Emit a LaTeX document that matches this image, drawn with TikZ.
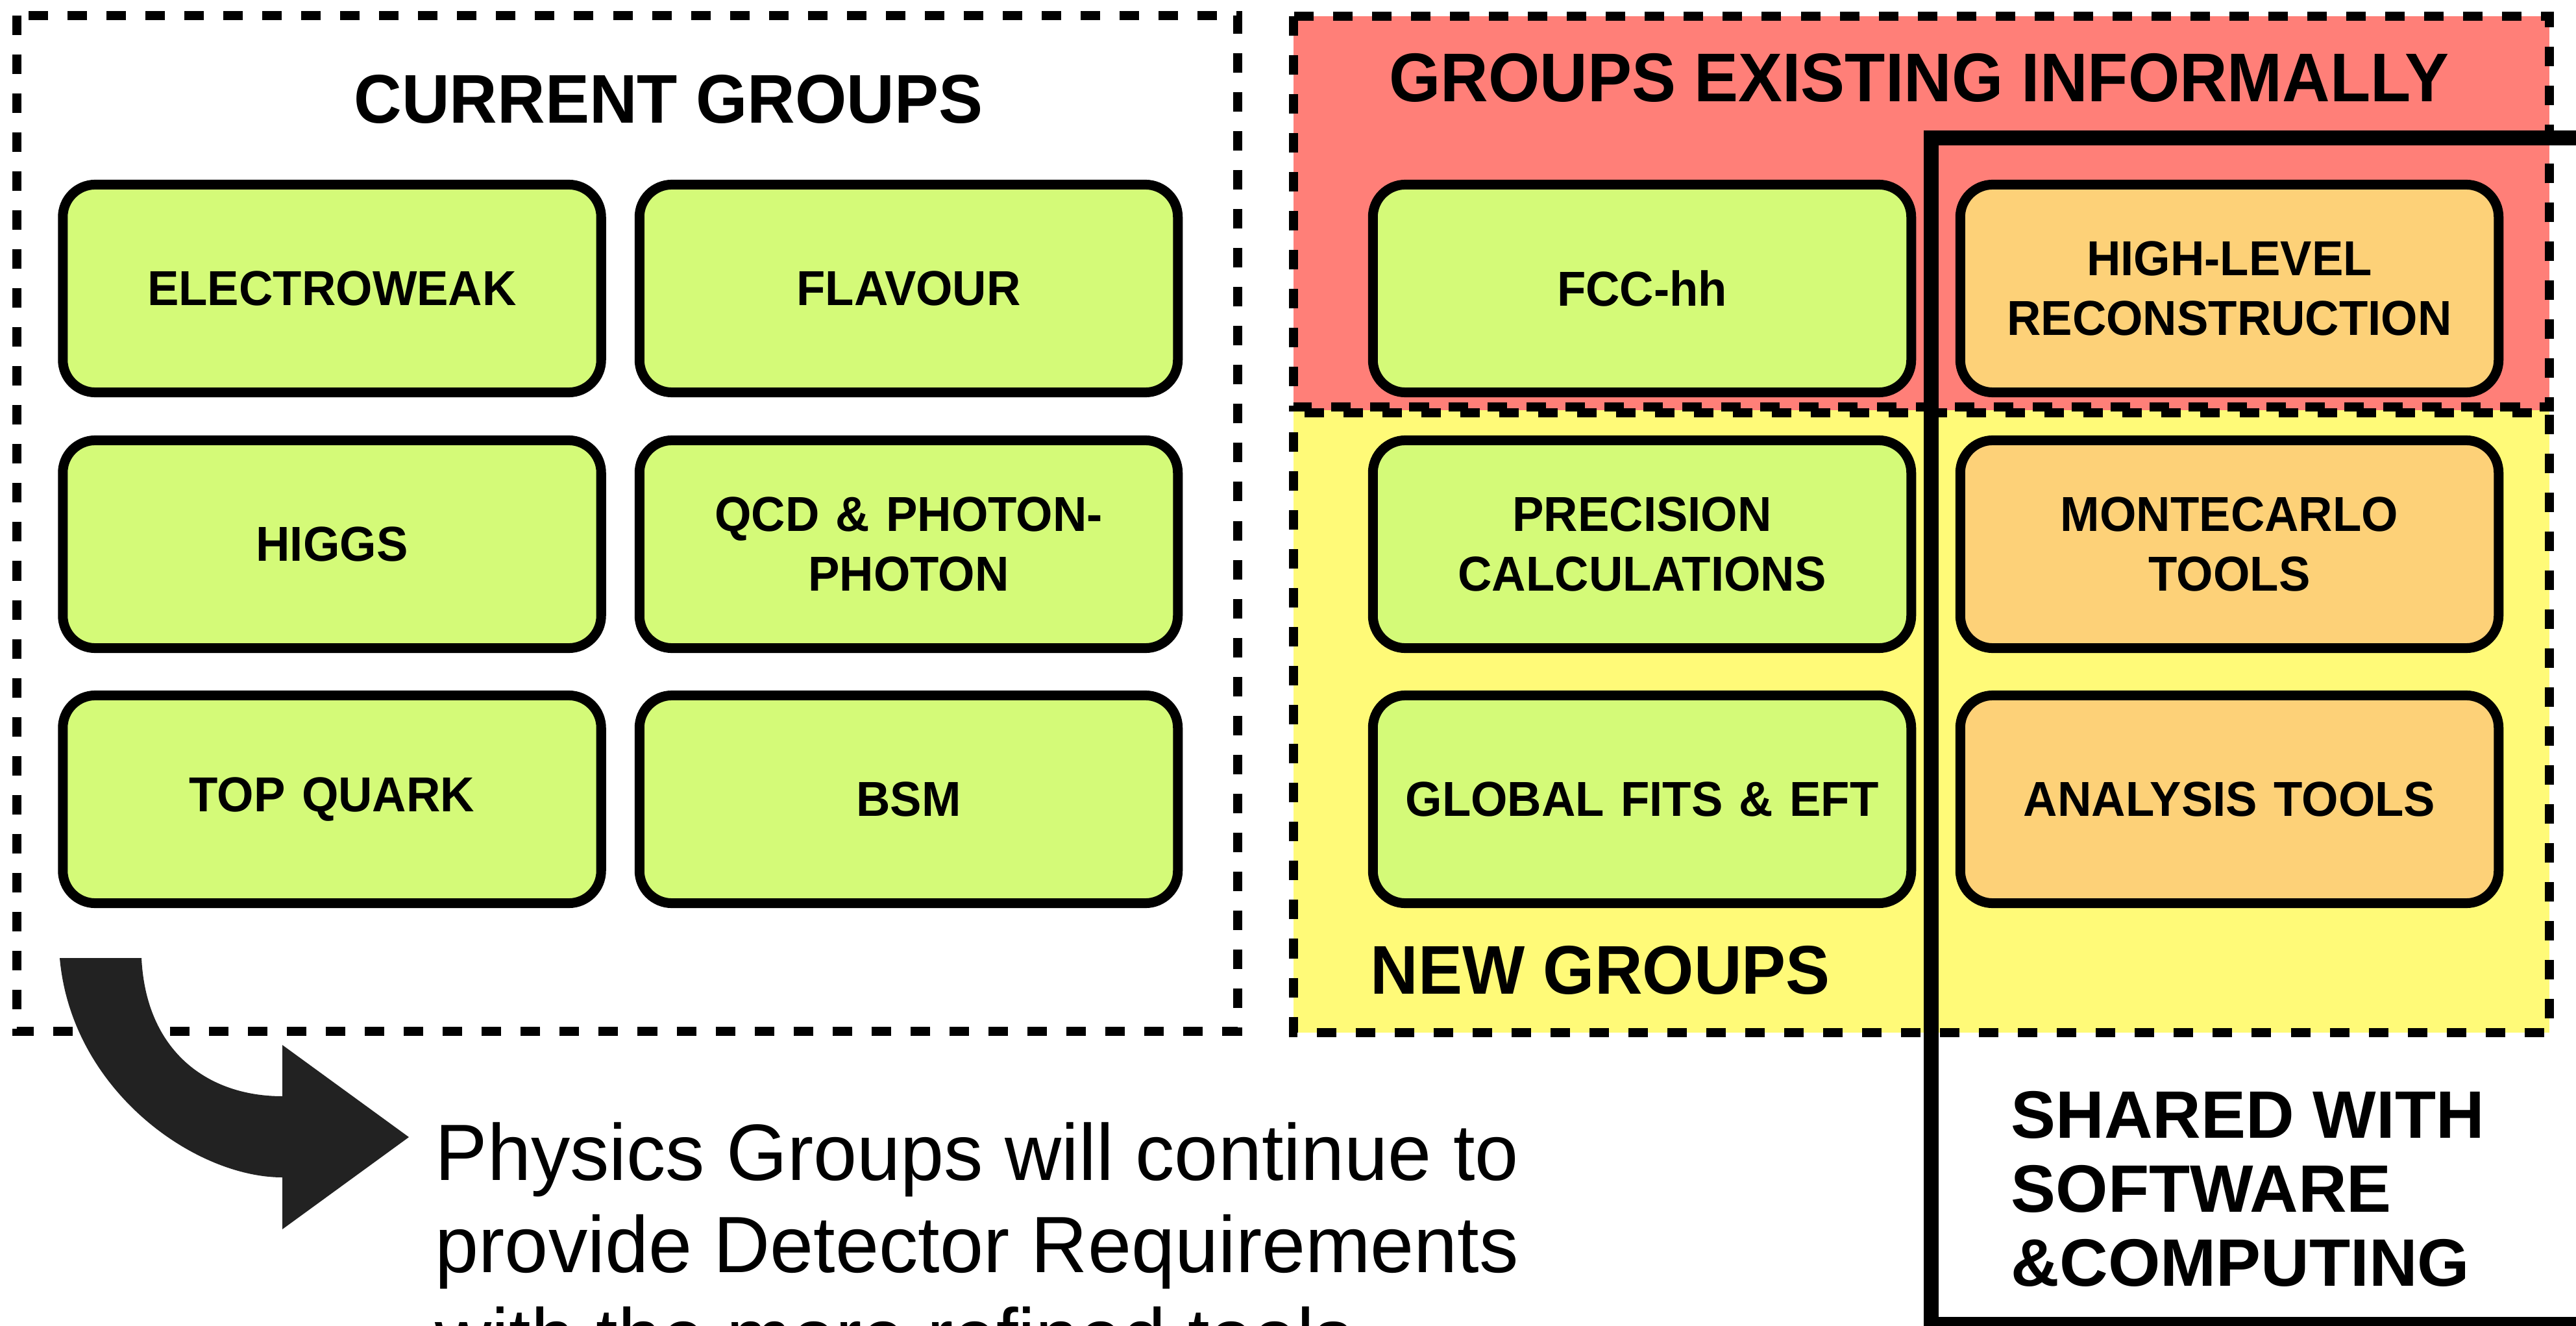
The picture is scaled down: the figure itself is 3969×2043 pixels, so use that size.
\documentclass[tikz,border=0pt]{standalone}
\usepackage{fontspec}
\setmainfont{Liberation Sans}
\newfontfamily\nsans[FakeStretch=0.96]{Liberation Sans}
\newfontfamily\nsansreg[FakeStretch=0.98]{Liberation Sans}
\definecolor{redbg}{HTML}{FF7F78}
\definecolor{yellowbg}{HTML}{FFFA78}
\definecolor{boxgreen}{HTML}{D4FA78}
\definecolor{boxorange}{HTML}{FDD178}
\definecolor{arrowgray}{HTML}{222222}
\begin{document}
\begin{tikzpicture}[x=0.01cm,y=-0.01cm,
  grp/.style={draw=black, line width=0.15cm, rounded corners=0.5cm,
    minimum width=8.29cm, minimum height=3.2cm, inner sep=0pt,
    align=center, text width=8cm,
    font=\fontsize{21.5}{25.9}\selectfont\nsans\bfseries},
  greenbox/.style={grp, fill=boxgreen},
  orangebox/.style={grp, fill=boxorange},
  dashframe/.style={line width=0.14cm, dash pattern=on 0.3cm off 0.3cm},
  title/.style={inner sep=0pt, font=\fontsize{30.2}{36}\selectfont\nsans\bfseries},
  shared/.style={inner sep=0pt, anchor=base west, font=\fontsize{29.4}{32}\selectfont\bfseries},
  note/.style={inner sep=0pt, anchor=base west, font=\fontsize{35}{40}\selectfont\nsansreg}
]
\useasboundingbox (0,0) rectangle (3969,2043);
\fill[white] (0,0) rectangle (3969,2043);

% left frame
\draw[dashframe] (26,24) rectangle (1907,1589);

% right region fills
\fill[redbg] (1993,25) rectangle (3928,632);
\fill[yellowbg] (1993,632) rectangle (3928,1591);
\draw[dashframe] (1993,25) rectangle (3928,627);
\draw[dashframe, dash phase=0.3cm] (1993,636) rectangle (3928,1591);

% titles
\node[title, anchor=base] (curtitle) at (1030,190) {CURRENT GROUPS};
\node[title, anchor=base] (inftitle) at (2957,157) {GROUPS EXISTING INFORMALLY};
\node[title, anchor=base west] (newtitle) at (2111,1531) {NEW GROUPS};

% current groups
\node[greenbox] (ew) at (511.5,444.5) {ELECTROWEAK};
\node[greenbox] (flav) at (1400,444.5) {FLAVOUR};
\node[greenbox] (higgs) at (511.5,838.5) {HIGGS};
\node[greenbox] (qcd) at (1400,838.5) {QCD \& PHOTON-\\PHOTON};
\node[greenbox] (top) at (511.5,1231.5) {TOP QUARK};
\node[greenbox] (bsm) at (1400,1231.5) {BSM};

% right groups
\node[greenbox] (fcchh) at (2530,444.5) {FCC-hh};
\node[orangebox] (hlreco) at (3435,444.5) {HIGH-LEVEL\\RECONSTRUCTION};
\node[greenbox] (prec) at (2530,838.5) {PRECISION\\CALCULATIONS};
\node[orangebox] (mc) at (3435,838.5) {MONTECARLO\\TOOLS};
\node[greenbox] (fits) at (2530,1231.5) {GLOBAL FITS \& EFT};
\node[orangebox] (ana) at (3435,1231.5) {ANALYSIS TOOLS};

% shared frame
\coordinate (frtop) at (4100,213);
\coordinate (frbot) at (4100,2040);
\draw[line width=0.23cm] (frtop) -| (2975,2040) -- (frbot);
\node[shared] (sh1) at (3098,1753) {SHARED WITH};
\node[shared] (sh2) at (3098,1867) {SOFTWARE};
\node[shared] (sh3) at (3098,1981) {\&COMPUTING};

% curved block arrow
\fill[arrowgray] (92,1476) -- (218,1476)
  .. controls (225,1620) and (320,1689) .. (435,1689)
  -- (435,1610) -- (630,1752) -- (435,1894) -- (435,1814)
  .. controls (300,1814) and (110,1680) .. (92,1476) -- cycle;

% note text
\node[note] (n1) at (670,1818) {Physics Groups will continue to};
\node[note] (n2) at (670,1960) {provide Detector Requirements};
\node[note] (n3) at (670,2102) {with the more refined tools};
\end{tikzpicture}
\end{document}
